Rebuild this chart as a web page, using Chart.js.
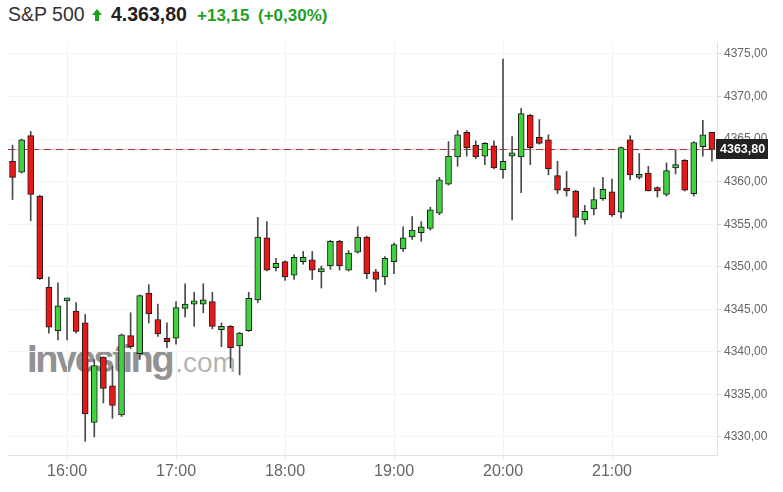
<!DOCTYPE html>
<html>
<head>
<meta charset="utf-8">
<script src="https://cdn.jsdelivr.net/npm/chart.js@4.4.0/dist/chart.umd.min.js"></script>
<style>
  body { margin: 0; background: #fff; font-family: "Liberation Sans", Arial, sans-serif; }
  #wrap { position: relative; width: 783px; height: 492px; overflow: hidden; }
  .hd { position: absolute; white-space: nowrap; }
  #name { left: 8px; top: 5px; font-size: 19.5px; line-height: 19.5px; color: #333; }
  #price { left: 111px; top: 5px; font-size: 19.5px; line-height: 19.5px; color: #222; font-weight: bold; }
  #chg { left: 197px; top: 7px; font-size: 17px; line-height: 17px; color: #1f9e1f; font-weight: bold; }
  #pct { left: 258px; top: 7px; font-size: 17px; line-height: 17px; color: #1f9e1f; font-weight: bold; }
  #arrow { position: absolute; left: 92px; top: 9px; }
  #mark { position: absolute; left: 27px; top: 340px; line-height: 38px; white-space: nowrap; }
  #mark .a { font-size: 38px; font-weight: bold; letter-spacing: -2.4px; color: rgba(110,110,110,0.75); }
  #mark .b { font-size: 28px; color: rgba(130,130,130,0.6); margin-left: 3px; }
  #chartBox { position: absolute; left: 0; top: 0; width: 783px; height: 492px; }
</style>
</head>
<body>
<div id="wrap">
  <span class="hd" id="name">S&amp;P 500</span>
  <svg id="arrow" width="10" height="12" viewBox="0 0 10 12"><polygon points="5,0 10,6 7,6 7,12 3,12 3,6 0,6" fill="#1f9e1f"/></svg>
  <span class="hd" id="price">4.363,80</span>
  <span class="hd" id="chg">+13,15</span>
  <span class="hd" id="pct">(+0,30%)</span>
  <div id="mark"><span class="a">Investing</span><span class="b">.com</span></div>
  <div id="chartBox"><canvas id="chart"></canvas></div>
</div>
<script>
// 5 minute candles
const times = [
  '15:30','15:35','15:40','15:45','15:50','15:55',
  '16:00','16:05','16:10','16:15','16:20','16:25','16:30','16:35','16:40','16:45','16:50','16:55',
  '17:00','17:05','17:10','17:15','17:20','17:25','17:30','17:35','17:40','17:45','17:50','17:55',
  '18:00','18:05','18:10','18:15','18:20','18:25','18:30','18:35','18:40','18:45','18:50','18:55',
  '19:00','19:05','19:10','19:15','19:20','19:25','19:30','19:35','19:40','19:45','19:50','19:55',
  '20:00','20:05','20:10','20:15','20:20','20:25','20:30','20:35','20:40','20:45','20:50','20:55',
  '21:00','21:05','21:10','21:15','21:20','21:25','21:30','21:35','21:40','21:45','21:50','21:55'
];
const open = [
  4362.4, 4361.1, 4365.4, 4358.3, 4347.6, 4342.5,
  4346.0, 4344.8, 4343.4, 4331.7, 4339.4, 4336.0, 4332.6, 4341.9, 4339.8, 4346.9, 4343.8, 4341.6,
  4341.6, 4345.1, 4345.6, 4345.6, 4345.9, 4342.6, 4343.0, 4340.7, 4342.5, 4346.1, 4353.4, 4349.9,
  4350.6, 4349.0, 4350.6, 4350.8, 4349.4, 4350.1, 4353.0, 4349.6, 4351.7, 4353.5, 4349.4, 4348.8,
  4350.6, 4352.1, 4353.5, 4354.0, 4354.5, 4356.3, 4359.7, 4362.9, 4365.8, 4364.3, 4363.0, 4364.2,
  4361.4, 4363.0, 4362.9, 4367.8, 4365.2, 4364.9, 4360.7, 4359.2, 4358.9, 4355.5, 4356.8, 4358.0,
  4358.8, 4356.4, 4364.9, 4360.5, 4361.0, 4359.3, 4358.5, 4361.6, 4362.5, 4358.6, 4364.1, 4365.8
];
const high = [
  4364.3, 4365.0, 4365.9, 4358.4, 4348.8, 4348.1,
  4346.3, 4345.8, 4344.4, 4339.1, 4339.4, 4338.3, 4342.1, 4344.6, 4346.7, 4347.9, 4345.6, 4343.4,
  4345.9, 4348.0, 4347.0, 4348.0, 4347.0, 4343.4, 4343.1, 4342.3, 4347.0, 4355.8, 4355.3, 4351.0,
  4350.7, 4351.4, 4351.8, 4351.8, 4350.1, 4353.1, 4353.1, 4351.9, 4354.7, 4353.6, 4349.7, 4351.2,
  4352.8, 4354.7, 4355.9, 4355.3, 4357.0, 4360.5, 4364.7, 4366.0, 4366.0, 4364.8, 4364.6, 4364.8,
  4374.4, 4365.3, 4368.6, 4367.9, 4367.3, 4365.5, 4362.4, 4361.2, 4359.0, 4357.2, 4359.3, 4360.5,
  4360.3, 4364.1, 4365.4, 4363.3, 4361.8, 4359.4, 4362.2, 4363.7, 4362.6, 4364.7, 4367.2, 4365.8
];
const low = [
  4357.9, 4361.0, 4355.4, 4348.5, 4342.2, 4341.4,
  4341.4, 4342.2, 4329.5, 4330.0, 4334.0, 4332.2, 4332.4, 4340.4, 4339.1, 4343.4, 4341.8, 4340.5,
  4340.9, 4344.1, 4343.0, 4344.6, 4342.7, 4340.6, 4338.1, 4337.3, 4342.4, 4345.8, 4349.5, 4349.5,
  4348.4, 4348.5, 4350.3, 4348.5, 4347.5, 4349.7, 4349.6, 4349.5, 4351.6, 4348.6, 4347.1, 4347.9,
  4349.2, 4351.8, 4353.2, 4353.0, 4354.3, 4356.1, 4359.6, 4361.8, 4363.0, 4362.7, 4362.0, 4361.5,
  4360.4, 4355.5, 4358.7, 4362.0, 4364.4, 4360.8, 4358.6, 4358.3, 4353.6, 4355.0, 4356.1, 4357.8,
  4355.9, 4355.7, 4360.2, 4360.3, 4358.9, 4358.2, 4358.3, 4360.9, 4358.9, 4358.3, 4363.0, 4362.4
];
const close = [
  4360.5, 4364.9, 4358.5, 4348.6, 4342.9, 4345.4,
  4346.2, 4342.4, 4332.7, 4338.4, 4335.7, 4333.7, 4342.0, 4340.6, 4346.6, 4344.5, 4342.1, 4341.2,
  4345.2, 4345.6, 4346.0, 4346.1, 4343.0, 4343.0, 4340.5, 4342.2, 4346.3, 4353.5, 4349.6, 4350.4,
  4348.8, 4351.1, 4351.1, 4349.6, 4349.8, 4353.0, 4350.1, 4351.6, 4353.5, 4349.2, 4348.5, 4351.0,
  4352.6, 4353.4, 4354.3, 4354.7, 4356.7, 4360.2, 4363.0, 4365.5, 4364.0, 4362.9, 4364.5, 4361.6,
  4362.4, 4363.4, 4368.0, 4364.0, 4364.5, 4361.5, 4359.0, 4358.9, 4355.8, 4356.5, 4357.9, 4359.1,
  4356.1, 4364.0, 4360.8, 4360.8, 4358.9, 4358.9, 4361.3, 4362.0, 4359.0, 4364.6, 4365.5, 4363.8
];
const hourLabels = ['16:00', '17:00', '18:00', '19:00', '20:00', '21:00'];
const priceTicks = [4330, 4335, 4340, 4345, 4350, 4355, 4360, 4365, 4370, 4375];
const lastPrice = 4363.80;

const toMin = t => { const p = t.split(':'); return +p[0] * 60 + +p[1]; };
const fmt = v => v.toFixed(2).replace('.', ',');
const isUp = open.map((o, i) => close[i] >= o);

const priceLine = {
  id: 'priceLine',
  beforeDatasetsDraw(chart) {
    const { ctx, chartArea: a, scales: { y } } = chart;
    const py = Math.round(y.getPixelForValue(lastPrice)) + 0.5;
    ctx.save();
    ctx.lineWidth = 1;
    ctx.strokeStyle = 'rgba(235,130,145,0.55)';
    ctx.beginPath(); ctx.moveTo(a.left, py); ctx.lineTo(a.right, py); ctx.stroke();
    ctx.setLineDash([7, 5]);
    ctx.strokeStyle = '#a23838';
    ctx.beginPath(); ctx.moveTo(a.left, py); ctx.lineTo(a.right, py); ctx.stroke();
    ctx.restore();
  },
  afterDraw(chart) {
    const { ctx, chartArea: a, scales: { y } } = chart;
    const py = Math.round(y.getPixelForValue(lastPrice));
    ctx.save();
    ctx.fillStyle = '#222';
    ctx.fillRect(a.right - 1, py - 10, 52, 20);
    ctx.fillStyle = '#fff';
    ctx.font = 'bold 12.5px "Liberation Sans", Arial';
    ctx.textBaseline = 'middle';
    ctx.fillText(fmt(lastPrice), a.right + 3, py + 1);
    ctx.restore();
  }
};

new Chart(document.getElementById('chart'), {
  type: 'bar',
  data: {
    datasets: [
      {
        label: 'body',
        data: times.map((t, i) => ({ x: toMin(t), y: [open[i], close[i]] })),
        backgroundColor: isUp.map(u => u ? '#3fd13f' : '#e81818'),
        borderColor: '#1b1b1b',
        borderWidth: 1,
        borderSkipped: false,
        barThickness: 6,
        minBarLength: 3,
        grouped: false,
        order: 0
      },
      {
        label: 'wick',
        data: times.map((t, i) => ({ x: toMin(t), y: [low[i], high[i]] })),
        backgroundColor: '#4a4a4a',
        borderWidth: 0,
        barThickness: 1,
        grouped: false,
        order: 1
      }
    ]
  },
  options: {
    responsive: true,
    maintainAspectRatio: false,
    animation: false,
    layout: { padding: { left: 8, top: 42, right: 0, bottom: 0 } },
    plugins: { legend: { display: false }, tooltip: { enabled: false } },
    scales: {
      x: {
        type: 'linear',
        offset: false,
        min: 927.5,
        max: 1317.8,
        afterBuildTicks: s => { s.ticks = hourLabels.map(h => ({ value: toMin(h) })); },
        afterFit: s => { s.height = 37; },
        grid: { offset: false, color: '#f2f2f2', tickColor: '#e6e6e6', tickLength: 5 },
        border: { color: '#e2e2e2' },
        ticks: {
          padding: 2,
          maxRotation: 0,
          color: '#666',
          font: { family: '"Liberation Sans Narrow", "Liberation Sans", Arial', size: 16 },
          callback: v => hourLabels.find(h => toMin(h) === v) || ''
        }
      },
      y: {
        position: 'right',
        min: 4327.88,
        max: 4376.41,
        afterBuildTicks: s => { s.ticks = priceTicks.map(v => ({ value: v })); },
        afterFit: s => { s.width = 66; },
        grid: { color: '#f5f5f5', tickColor: '#d8d8d8', tickLength: 4 },
        border: { color: '#e2e2e2' },
        ticks: {
          padding: 3,
          color: '#666',
          font: { family: '"Liberation Sans", Arial', size: 12 },
          callback: v => fmt(v)
        }
      }
    }
  },
  plugins: [priceLine]
});
</script>
</body>
</html>
